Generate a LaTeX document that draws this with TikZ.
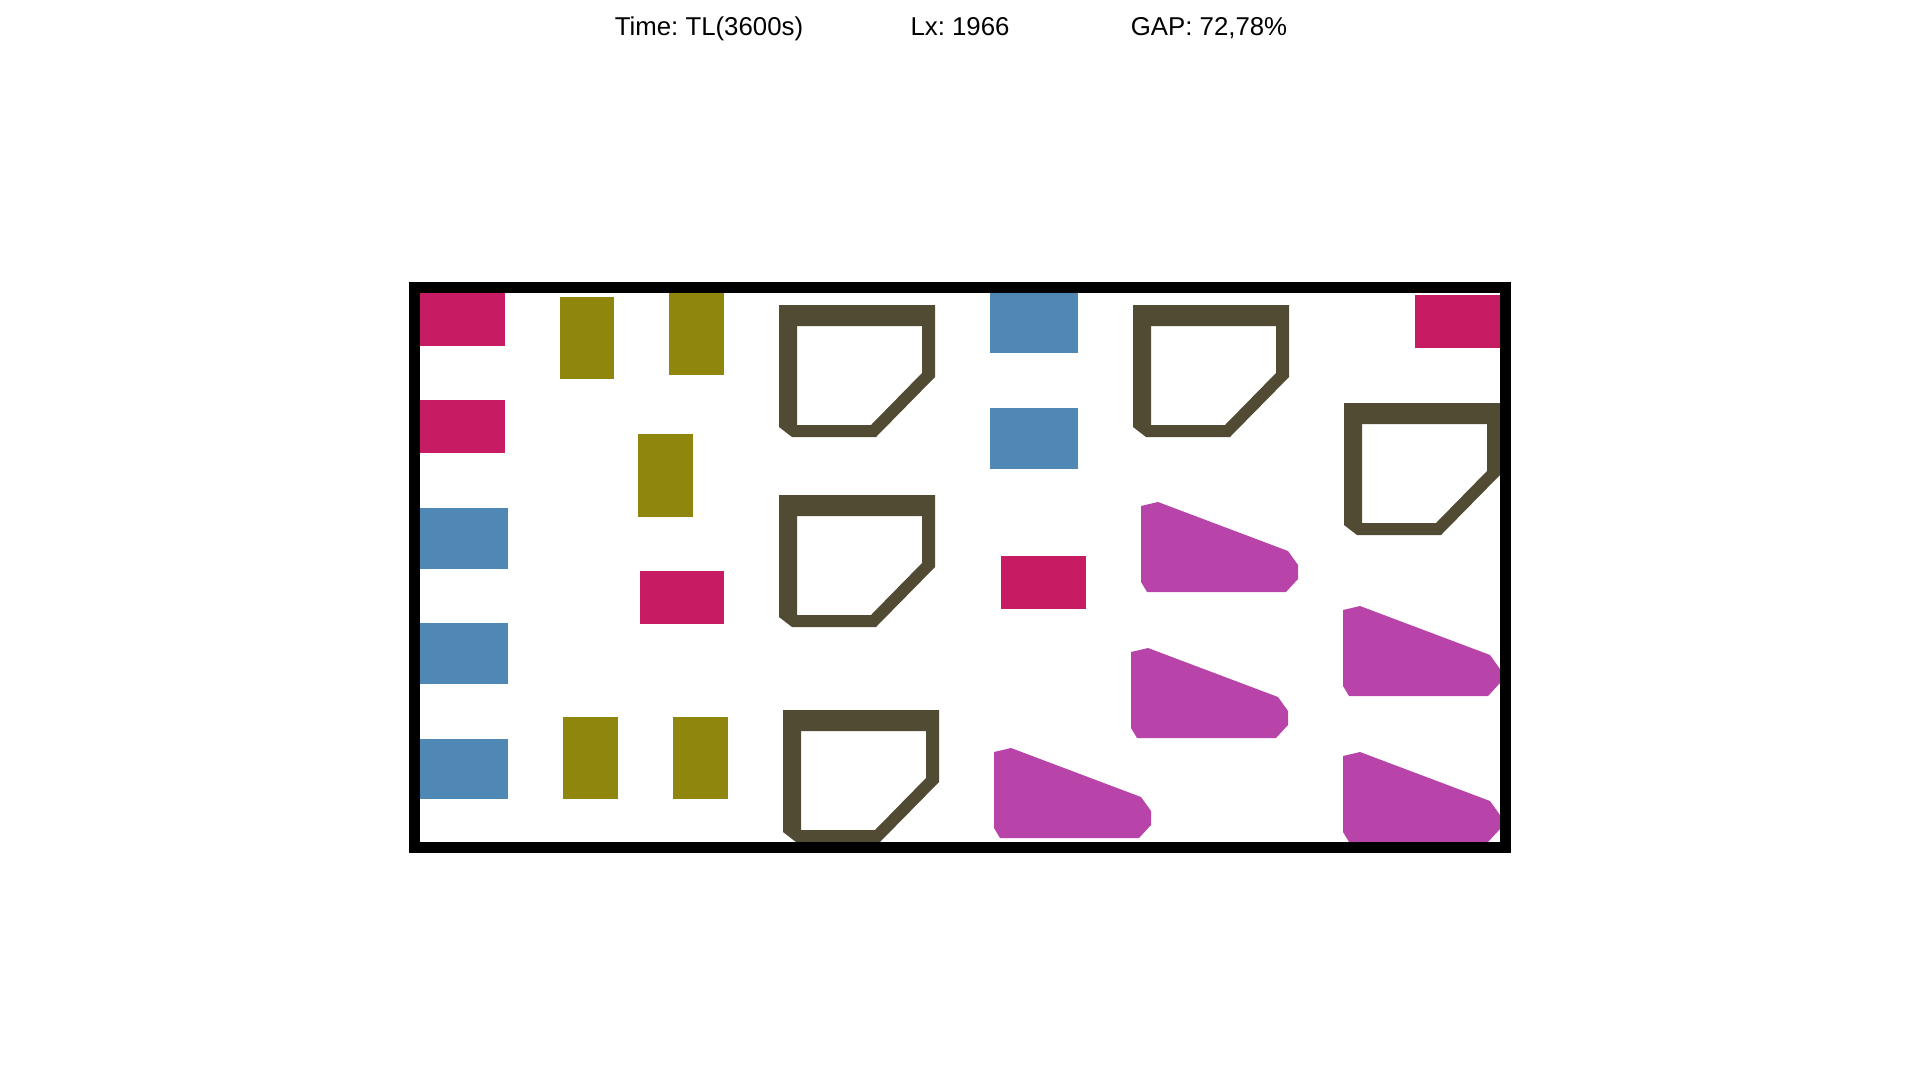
\documentclass[tikz,border=0pt]{standalone}
\usepackage{fontspec}
\setmainfont{Liberation Sans}
\frenchspacing
\definecolor{piececrimson}{RGB}{199,27,99}
\definecolor{pieceolive}{RGB}{143,134,13}
\definecolor{pieceblue}{RGB}{79,136,180}
\definecolor{pieceframe}{RGB}{82,75,51}
\definecolor{piecemagenta}{RGB}{184,68,169}

\begin{document}
\begin{tikzpicture}[
  x=1pt, y=-1pt,
  crimson/.style={fill=piececrimson},
  olive/.style={fill=pieceolive},
  bluebox/.style={fill=pieceblue},
  frame/.style={fill=pieceframe, even odd rule},
  wedge/.style={fill=piecemagenta},
  strip/.style={draw=black, line width=11, line join=miter},
  lbl/.style={font=\fontsize{25.8}{30}\selectfont, anchor=base, inner sep=0pt},
]
  \useasboundingbox (0,0) rectangle (1920,1080);

  % Header
  \node[lbl] (time) at (709,35)  {Time: TL(3600s)};
  \node[lbl] (lx)   at (960,35)  {Lx: 1966};
  \node[lbl] (gap)  at (1209,35) {GAP: 72,78\%};

  % Rectangular pieces
  \foreach \xa/\ya/\xb/\yb in {420/293/505/346, 420/400/505/453, 640/571/724/624,
                               1001/556/1086/609, 1415/295/1500/348}
    \fill[crimson] (\xa,\ya) rectangle (\xb,\yb);
  \foreach \xa/\ya/\xb/\yb in {560/297/614/379, 669/293/724/375, 638/434/693/517,
                               563/717/618/799, 673/717/728/799}
    \fill[olive] (\xa,\ya) rectangle (\xb,\yb);
  \foreach \xa/\ya/\xb/\yb in {420/508/508/569, 420/623/508/684, 420/739/508/799,
                               990/293/1078/353, 990/408/1078/469}
    \fill[bluebox] (\xa,\ya) rectangle (\xb,\yb);

  % Hollow frames
  \foreach \x/\y in {779/305, 1133/305, 779/495, 1344/403, 783/710}
    \fill[frame, shift={(\x,\y)}]
      (0,0) -- (156,0) -- (156,72) -- (97,132) -- (13,132) -- (0,122) -- cycle
      (18,21) -- (143,21) -- (143,68) -- (92,120) -- (18,120) -- cycle;

  % Wedges
  \foreach \x/\y in {1141/592, 1131/738, 994/838, 1343/696, 1343/842}
    \fill[wedge, shift={(\x,\y)}]
      (0,-86) -- (17,-90) -- (147,-41) -- (157,-27) -- (157,-13)
      -- (145,0) -- (6,0) -- (0,-10) -- cycle;

  % Strip
  \draw[strip] (414.5,287.5) rectangle (1505.5,847.5);
\end{tikzpicture}
\end{document}
